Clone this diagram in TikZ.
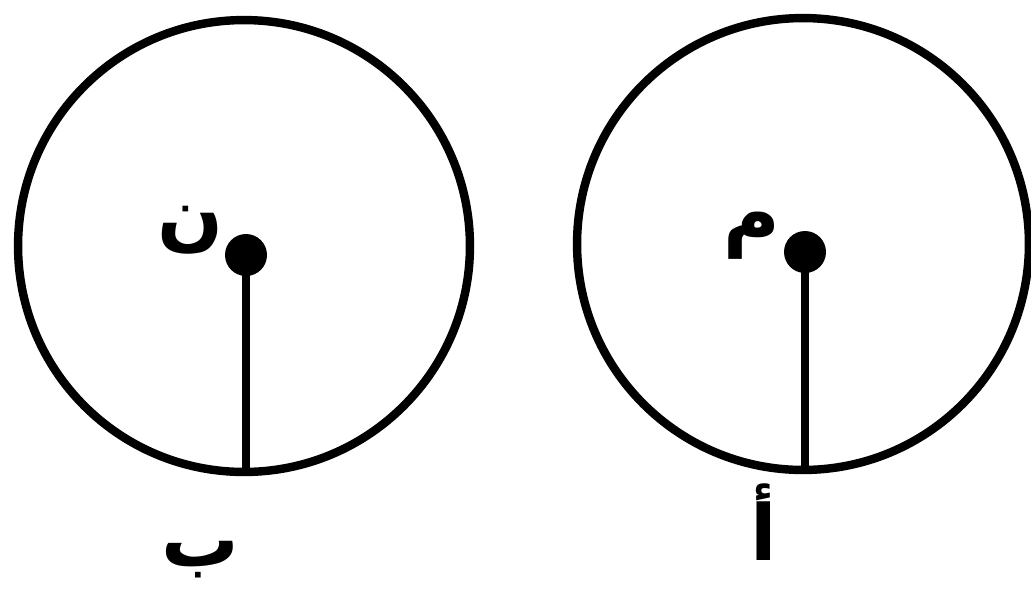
\documentclass[tikz,border=0pt]{standalone}
\usepackage{fontspec}
\newfontfamily\arabicfont[Script=Arabic]{DejaVu Sans}
\TeXXeTstate=1
\usetikzlibrary{calc}
\tikzset{
  rim/.style={draw=black,line width=4.8pt,circle,minimum size=9.04cm,inner sep=0pt},
  spoke/.style={draw=black,line width=4.2pt},
  lbl/.style={font=\arabicfont\bfseries\fontsize{44}{50}\selectfont,inner sep=0pt},
}
\begin{document}
\begin{tikzpicture}[x=0.02cm,y=-0.02cm]
  \useasboundingbox (0,0) rectangle (1031,600);
  % left circle
  \node[rim] (cn) at (244,246) {};
  \coordinate (n) at (246,255);
  \draw[spoke] (n) -- (n |- cn.south);
  \fill (n) circle (21);
  \node[lbl] (ln) at (190,230) {\beginR ن\endR};
  \node[lbl] (lb) at (200,560) {\beginR ب\endR};
  % right circle
  \node[rim] (cm) at (803,244) {};
  \coordinate (m) at (805,252);
  \draw[spoke] (m) -- (m |- cm.south);
  \fill (m) circle (21);
  \node[lbl] (lm) at (752,236) {\beginR م\endR};
  \node[lbl] (la) at (764,522) {\beginR أ\endR};
\end{tikzpicture}
\end{document}
